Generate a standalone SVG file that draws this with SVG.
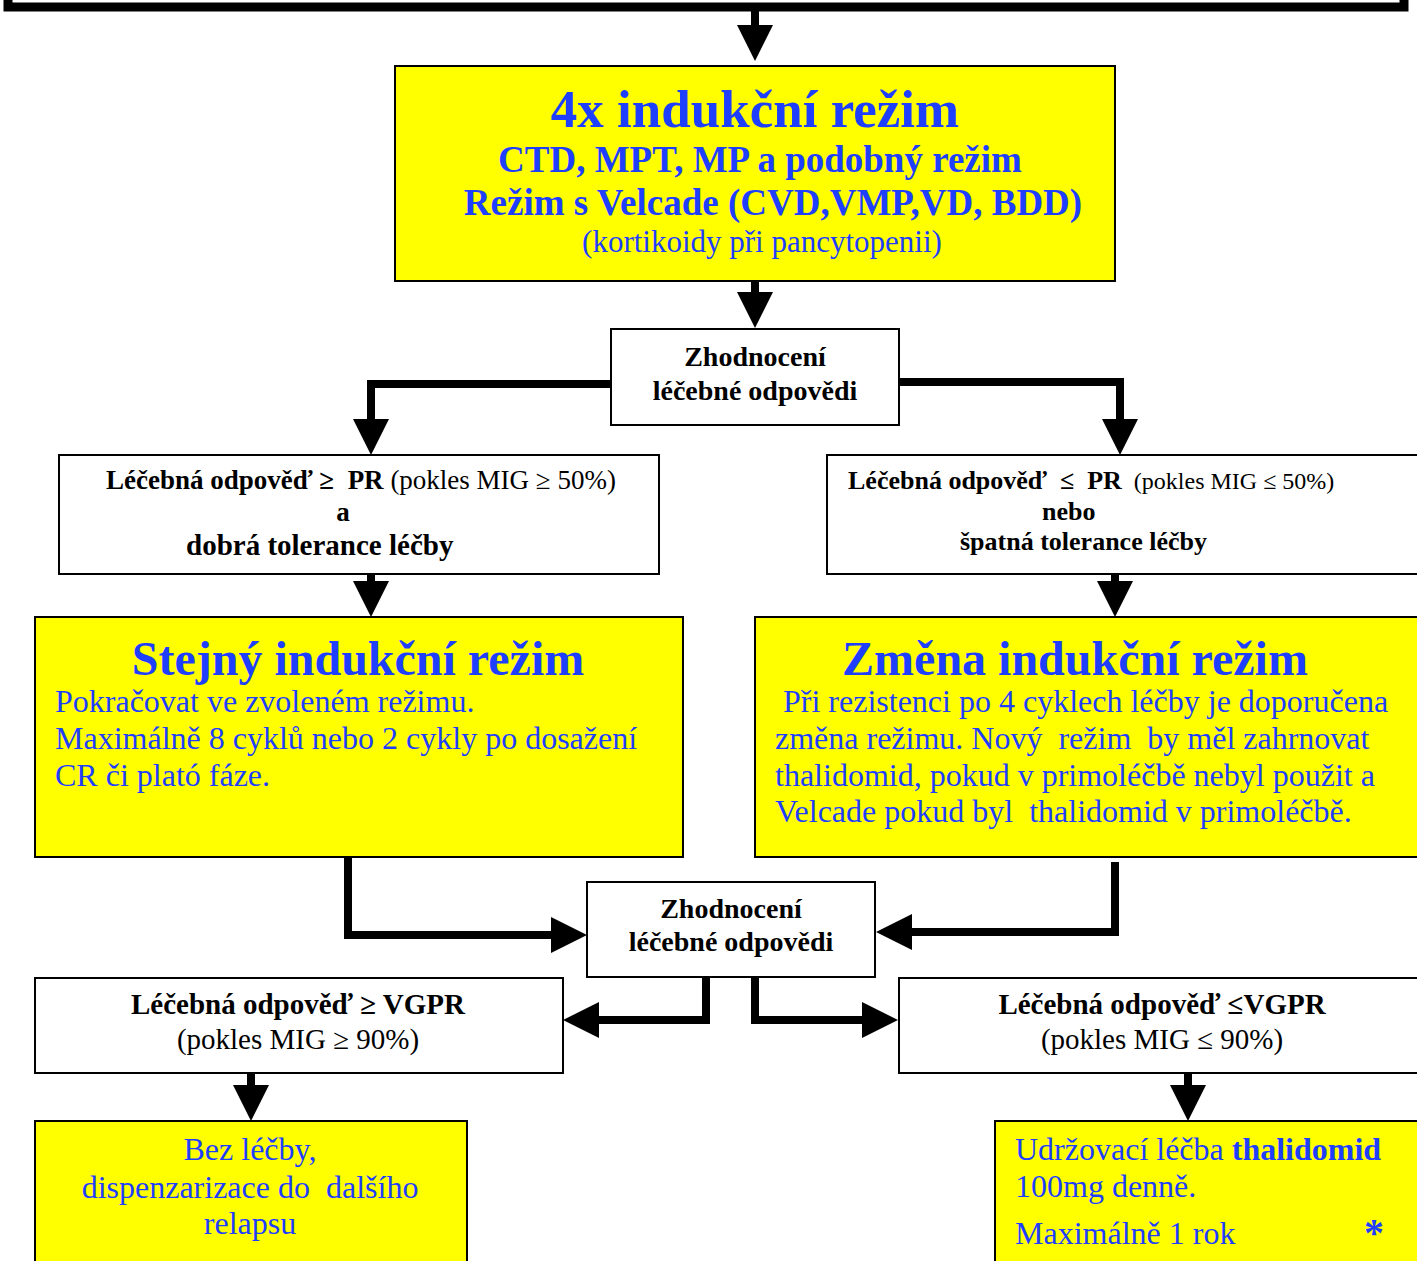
<svg xmlns="http://www.w3.org/2000/svg" width="1417" height="1261" viewBox="0 0 1417 1261">
<style>
.box{fill:#ffffff;stroke:#000;stroke-width:2}
.yel{fill:#ffff00;stroke:#000;stroke-width:2}
.t{font-family:"Liberation Serif","Times New Roman",serif;fill:#000}
.b{font-weight:bold}
.blue{fill:#1f3fff}
.c{text-anchor:middle}
.con{fill:none;stroke:#000;stroke-width:8;stroke-linejoin:miter}
</style>
<defs>
<marker id="ah" markerUnits="userSpaceOnUse" markerWidth="36" markerHeight="36" viewBox="0 0 36 36" refX="0" refY="18" orient="auto">
<path d="M0,0 L36,18 L0,36 Z" fill="#000"/>
</marker>
</defs>
<rect width="1417" height="1261" fill="#fff"/>

<g id="top-box">
<rect x="8" y="-30" width="1396" height="37" fill="#fff" stroke="#000" stroke-width="9"/>
</g>

<g id="induction">
<rect class="yel" x="395" y="66" width="720" height="215"/>
<text class="t b blue c" x="755" y="127" font-size="53">4x indukční režim</text>
<text class="t b blue c" x="760" y="172" font-size="37">CTD, MPT, MP a podobný režim</text>
<text class="t b blue c" x="773" y="215" font-size="37">Režim s Velcade (CVD,VMP,VD, BDD)</text>
<text class="t blue c" x="762" y="252" font-size="31">(kortikoidy při pancytopenii)</text>
</g>

<g id="eval1">
<rect class="box" x="611" y="329" width="288" height="96"/>
<text class="t b c" x="755" y="366" font-size="28">Zhodnocení</text>
<text class="t b c" x="755" y="400" font-size="28">léčebné odpovědi</text>
</g>

<g id="good-response">
<rect class="box" x="59" y="455" width="600" height="119"/>
<text class="t" x="106" y="489" font-size="27" xml:space="preserve"><tspan font-weight="bold">Léčebná odpověď ≥  PR</tspan> (pokles MIG ≥ 50%)</text>
<text class="t b c" x="343" y="521" font-size="27">a</text>
<text class="t b" x="186" y="555" font-size="29">dobrá tolerance léčby</text>
</g>

<g id="poor-response">
<rect class="box" x="827" y="455" width="610" height="119"/>
<text class="t" x="848" y="489" font-size="26" xml:space="preserve"><tspan font-weight="bold">Léčebná odpověď  ≤  PR</tspan><tspan font-size="24">  (pokles MIG ≤ 50%)</tspan></text>
<text class="t b" x="1042" y="520" font-size="26">nebo</text>
<text class="t b" x="960" y="550" font-size="26">špatná tolerance léčby</text>
</g>

<g id="same-regimen">
<rect class="yel" x="35" y="617" width="648" height="240"/>
<text class="t b blue c" x="358" y="675" font-size="48">Stejný indukční režim</text>
<text class="t blue" x="55" y="712" font-size="32">Pokračovat ve zvoleném režimu.</text>
<text class="t blue" x="55" y="749" font-size="32">Maximálně 8 cyklů nebo 2 cykly po dosažení</text>
<text class="t blue" x="55" y="786" font-size="32">CR či plató fáze.</text>
</g>

<g id="change-regimen">
<rect class="yel" x="755" y="617" width="680" height="240"/>
<text class="t b blue c" x="1075" y="675" font-size="48">Změna indukční režim</text>
<text class="t blue" x="775" y="712" font-size="32" xml:space="preserve"> Při rezistenci po 4 cyklech léčby je doporučena</text>
<text class="t blue" x="775" y="749" font-size="32" xml:space="preserve">změna režimu. Nový  režim  by měl zahrnovat</text>
<text class="t blue" x="775" y="786" font-size="32">thalidomid, pokud v primoléčbě nebyl použit a</text>
<text class="t blue" x="775" y="822" font-size="32" xml:space="preserve">Velcade pokud byl  thalidomid v primoléčbě.</text>
</g>

<g id="eval2">
<rect class="box" x="587" y="882" width="288" height="95"/>
<text class="t b c" x="731" y="918" font-size="28">Zhodnocení</text>
<text class="t b c" x="731" y="951" font-size="28">léčebné odpovědi</text>
</g>

<g id="vgpr-good">
<rect class="box" x="35" y="978" width="528" height="95"/>
<text class="t b c" x="298" y="1014" font-size="29">Léčebná odpověď ≥ VGPR</text>
<text class="t c" x="298" y="1049" font-size="29">(pokles MIG ≥ 90%)</text>
</g>

<g id="vgpr-poor">
<rect class="box" x="899" y="978" width="540" height="95"/>
<text class="t b c" x="1162" y="1014" font-size="29">Léčebná odpověď ≤VGPR</text>
<text class="t c" x="1162" y="1049" font-size="29">(pokles MIG ≤ 90%)</text>
</g>

<g id="no-treatment">
<rect class="yel" x="35" y="1121" width="432" height="160"/>
<text class="t blue c" x="250" y="1160" font-size="32">Bez léčby,</text>
<text class="t blue c" x="250" y="1198" font-size="32" xml:space="preserve">dispenzarizace do  dalšího</text>
<text class="t blue c" x="250" y="1234" font-size="32">relapsu</text>
</g>

<g id="maintenance">
<rect class="yel" x="995" y="1121" width="440" height="160"/>
<text class="t blue" x="1015" y="1160" font-size="32">Udržovací léčba <tspan font-weight="bold">thalidomid</tspan></text>
<text class="t blue" x="1015" y="1197" font-size="32">100mg denně.</text>
<text class="t blue" x="1015" y="1244" font-size="32">Maximálně 1 rok</text>
<text class="t b blue" x="1364" y="1246" font-size="40">*</text>
</g>

<g id="connectors">
<path class="con" d="M755,11 V25" marker-end="url(#ah)"/>
<path class="con" d="M755,281 V292" marker-end="url(#ah)"/>
<path class="con" d="M611,384 H371 V419" marker-end="url(#ah)"/>
<path class="con" d="M899,382 H1120 V419" marker-end="url(#ah)"/>
<path class="con" d="M371,574 V581" marker-end="url(#ah)"/>
<path class="con" d="M1115,574 V581" marker-end="url(#ah)"/>
<path class="con" d="M348,858 V935 H551" marker-end="url(#ah)"/>
<path class="con" d="M1115,862 V932 H912" marker-end="url(#ah)"/>
<path class="con" d="M706,977 V1020 H599" marker-end="url(#ah)"/>
<path class="con" d="M755,977 V1020 H862" marker-end="url(#ah)"/>
<path class="con" d="M251,1073 V1085" marker-end="url(#ah)"/>
<path class="con" d="M1188,1073 V1085" marker-end="url(#ah)"/>
</g>
</svg>
